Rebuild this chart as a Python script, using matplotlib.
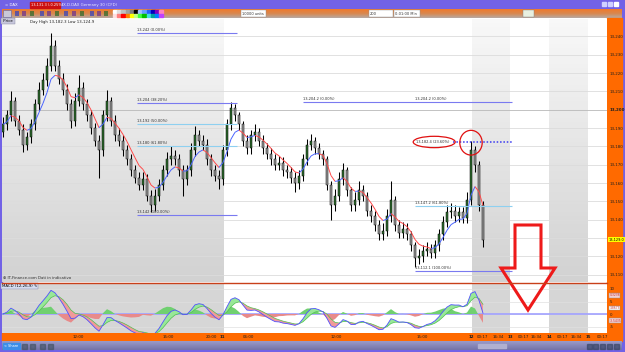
import matplotlib.pyplot as plt
import numpy as np
import pandas as pd
from matplotlib.collections import LineCollection
from matplotlib.colors import LinearSegmentedColormap
from matplotlib.patches import Rectangle, Ellipse, Polygon

# --- data (one candle every ~4 px) ---
first_open = 13188
closes = [13192, 13197, 13205, 13194, 13189, 13181, 13185, 13192, 13203, 13211,
          13216, 13224, 13235, 13224, 13217, 13211, 13203, 13194, 13205, 13212,
          13203, 13197, 13190, 13183, 13178, 13197, 13205, 13194, 13186, 13183,
          13178, 13173, 13167, 13163, 13159, 13162, 13153, 13148, 13153, 13159,
          13167, 13173, 13175, 13173, 13167, 13162, 13167, 13178, 13186, 13183,
          13181, 13173, 13167, 13164, 13162, 13178, 13192, 13201, 13197, 13192,
          13183, 13179, 13186, 13188, 13183, 13179, 13176, 13173, 13170, 13171,
          13167, 13166, 13163, 13160, 13164, 13173, 13181, 13183, 13179, 13176,
          13173, 13159, 13148, 13153, 13162, 13167, 13156, 13148, 13151, 13156,
          13153, 13145, 13142, 13137, 13132, 13134, 13142, 13151, 13137, 13133,
          13135, 13132, 13126, 13119, 13120, 13123, 13124, 13122, 13126, 13132,
          13139, 13144, 13145, 13142, 13144, 13141, 13151, 13178, 13170, 13148,
          13129]
highs = [13196, 13200, 13210, 13207, 13197, 13192, 13188, 13195, 13206, 13215,
         13220, 13228, 13242, 13238, 13227, 13220, 13214, 13206, 13209, 13219,
         13215, 13206, 13200, 13193, 13186, 13200, 13211, 13207, 13197, 13190,
         13186, 13181, 13176, 13170, 13166, 13166, 13165, 13156, 13157, 13162,
         13170, 13177, 13180, 13178, 13176, 13170, 13170, 13182, 13191, 13189,
         13186, 13184, 13176, 13170, 13167, 13181, 13195, 13204, 13203, 13199,
         13194, 13186, 13189, 13192, 13190, 13186, 13182, 13179, 13176, 13175,
         13174, 13170, 13169, 13166, 13167, 13176, 13184, 13187, 13185, 13182,
         13178, 13175, 13161, 13157, 13166, 13171, 13169, 13158, 13155, 13161,
         13159, 13155, 13148, 13145, 13140, 13138, 13146, 13161, 13153, 13140,
         13139, 13138, 13134, 13128, 13124, 13126, 13128, 13127, 13129, 13135,
         13142, 13148, 13149, 13148, 13147, 13147, 13155, 13183, 13180, 13172,
         13150]
lows = [13185, 13189, 13194, 13191, 13186, 13177, 13178, 13182, 13189, 13200,
        13208, 13213, 13221, 13221, 13214, 13208, 13200, 13190, 13191, 13202,
        13200, 13194, 13187, 13180, 13163, 13175, 13194, 13191, 13183, 13180,
        13175, 13170, 13164, 13160, 13156, 13156, 13150, 13144, 13145, 13150,
        13156, 13164, 13170, 13170, 13164, 13153, 13159, 13164, 13175, 13180,
        13178, 13170, 13164, 13161, 13157, 13159, 13175, 13189, 13194, 13189,
        13180, 13176, 13176, 13183, 13180, 13176, 13173, 13170, 13167, 13167,
        13164, 13163, 13160, 13155, 13157, 13161, 13170, 13178, 13176, 13173,
        13170, 13156, 13140, 13145, 13150, 13159, 13153, 13145, 13145, 13148,
        13150, 13142, 13139, 13134, 13129, 13129, 13131, 13139, 13134, 13130,
        13130, 13129, 13123, 13114, 13116, 13117, 13120, 13119, 13119, 13123,
        13129, 13136, 13141, 13139, 13139, 13138, 13138, 13148, 13166, 13145,
        13125]

price_ticks = [13110, 13120, 13130, 13140, 13150, 13160, 13170, 13180, 13190,
               13200, 13210, 13220, 13230, 13240]
macd_ticks = [-5, 0, 5, 10]

time_pos = [18.75, 41.25, 52, 54.75, 61.25, 83.2, 104.7, 117.2, 119.9, 123.75,
            126.75, 130, 133.4, 136.5, 139.9, 143.25, 146.25, 149.75]
time_labels = ['12:00', '15:00', '20:00', '11', '06:00', '12:00', '15:00', '12',
               '00:17', '16:34', '13', '00:17', '16:34', '14', '00:17', '16:34',
               '15', '00:17']
day_labels = ['11', '12', '13', '14', '15']

# sessions shaded grey (in candle index units)
grey_sessions = [(-0.25, 55.25), (117.25, 126.75), (136.5, 146.25)]

# fibonacci retracements
fib1_levels = [13242.0, 13203.8, 13192.0, 13180.2, 13142.3]
fib1_pcts = ['0.00%', '38.20%', '50.00%', '61.80%', '100.00%']
fib1_span = (33.5, 58.5)
fib2_levels = [13204.2, 13182.4, 13147.2, 13112.1]
fib2_pcts = ['0.00%', '23.60%', '61.80%', '100.00%']
fib2_span = (103.0, 127.25)

W, H = 625, 352
fig = plt.figure(figsize=(6.25, 3.52), dpi=100)


def rect(x0, y0, x1, y1):
    return [x0 / W, 1 - y1 / H, (x1 - x0) / W, (y1 - y0) / H]


# ---- window chrome (pixel coordinates) ----
bg = fig.add_axes([0, 0, 1, 1], zorder=0)
bg.set_xlim(0, W)
bg.set_ylim(H, 0)
bg.axis('off')

purple = '#7262e6'
orange = '#ff6a00'
bg.add_patch(Rectangle((0, 0), W, 9, color=purple))
bg.add_patch(Rectangle((0, 0), 2, H, color=purple))
bg.add_patch(Rectangle((622, 0), 3, H, color=purple))
bg.add_patch(Rectangle((0, 350), W, 2, color=purple))
tool = LinearSegmentedColormap.from_list('tool', ['#f07a2c', '#d88850', '#b8a8a0'])
bg.imshow(np.linspace(0, 1, 20).reshape(-1, 1), cmap=tool, aspect='auto',
          extent=(2, 622, 18, 9), zorder=1)
bg.add_patch(Rectangle((607, 18), 15, 323, color=orange, zorder=2))
bg.add_patch(Rectangle((2, 333), 605, 8, color=orange, zorder=2))
status = LinearSegmentedColormap.from_list('status', ['#9a9ac8', '#7474a8'])
bg.imshow(np.linspace(0, 1, 20).reshape(-1, 1), cmap=status, aspect='auto',
          extent=(2, 622, 350, 341), zorder=2)
bg.set_xlim(0, W)
bg.set_ylim(H, 0)

# title bar
bg.text(5, 4.6, '= DAX', color='white', fontsize=2.8, va='center')
bg.add_patch(Rectangle((30, 2), 30, 5.5, color='#cc1010', zorder=3))
bg.text(30.8, 4.7, '13,131.3 (-0.25%)', color='white', fontsize=2.5, va='center', zorder=4)
bg.text(62, 4.7, 'IX.D.DAX Germany 30 (CFD)', color='#e8e8ff', fontsize=2.8, va='center')
for i, c in enumerate(['#d0d0ff', '#d0d0ff', '#ffffff']):
    bg.add_patch(Rectangle((602 + i * 6, 2), 4, 4, color=c, zorder=3))

# toolbar
bg.add_patch(Rectangle((3, 10), 8, 7, facecolor='#c8c8d8', edgecolor='#6060a0', lw=0.4, zorder=3))
for k, xx in enumerate([15, 22, 30, 40, 47, 55, 64, 72, 80, 90, 97, 104]):
    bg.add_patch(Rectangle((xx, 11), 4, 5, facecolor=['#3040c0', '#6a3090', '#2a6a2a'][k % 3],
                           alpha=0.7, zorder=3))
row1 = ['#ffffff', '#e0e0e0', '#c0c0c0', '#a0a0a0', '#808080', '#000000', '#a0c0ff',
        '#60a0ff', '#2060ff', '#0000c0', '#8000c0', '#ff80c0']
row2 = ['#ffe0e0', '#ff8080', '#ff0000', '#ff8000', '#ffff00', '#c0ff80', '#40ff40',
        '#00c000', '#40e0e0', '#00a0a0', '#0080ff', '#c040ff']
for k in range(12):
    bg.add_patch(Rectangle((113 + k * 4.2, 9.8), 3.8, 3.4, color=row1[k], zorder=3))
    bg.add_patch(Rectangle((113 + k * 4.2, 13.6), 3.8, 3.4, color=row2[k], zorder=3))
for (x0, x1, txt) in [(241, 266, '10000 units'), (369, 393, '200'), (394, 420, '0:01:00 Min')]:
    bg.add_patch(Rectangle((x0, 10), x1 - x0, 7, facecolor='white', edgecolor='#909090',
                           lw=0.3, zorder=3))
    bg.text(x0 + 1, 13.6, txt, fontsize=2.6, va='center', color='#333333', zorder=4)
bg.add_patch(Rectangle((523, 10), 11, 7, facecolor='#e8f0e0', edgecolor='#808080', lw=0.3, zorder=3))

# status bar
bg.add_patch(Rectangle((3, 343), 17, 6, color='#3c8ee8', zorder=3))
bg.text(4.5, 346.2, '< Share', color='white', fontsize=2.5, va='center', zorder=4)
for xx in [22, 30, 40, 48]:
    bg.add_patch(Rectangle((xx, 343.5), 5, 5, color='#405060', alpha=0.6, zorder=3))
bg.add_patch(Rectangle((478, 343.5), 28, 4.5, color='#b0b0d0', zorder=3))
for xx in [587, 593, 600, 607, 614]:
    bg.add_patch(Rectangle((xx, 343.5), 5, 5, color='#304060', alpha=0.6, zorder=3))

# ---- price panel ----
n = len(closes)
x = np.arange(n)
opens = [first_open] + closes[:-1]

ax = fig.add_axes(rect(2, 19, 607, 282), zorder=1)
ax.set_facecolor('white')
shade = LinearSegmentedColormap.from_list('shade', ['#f8f8f8', '#d2d2d2'])
for x0, x1 in grey_sessions:
    ax.imshow(np.linspace(0, 1, 64).reshape(-1, 1), cmap=shade, aspect='auto',
              extent=(x0, x1, 13106, 13249.5), zorder=0)
ax.set_xlim(-0.25, 151)
ax.set_ylim(13106, 13249.5)

for p in price_ticks:
    ax.axhline(p, color='#b8b8b8' if p == 13200 else '#dcdcdc', lw=0.6, zorder=0.5)

ax.vlines(x, lows, highs, color='black', lw=0.75, zorder=2)
up = np.array(closes) >= np.array(opens)
body_lo = np.minimum(opens, closes)
body_h = np.maximum(np.abs(np.array(closes) - np.array(opens)), 0.6)
ax.bar(x, body_h, bottom=body_lo, width=0.7,
       color=np.where(up, '#2f6e2f', '#9a9a9a'), edgecolor='black', lw=0.35, zorder=3)

ma = pd.Series(closes).ewm(span=6, adjust=False).mean().values
segs = [[(i, ma[i]), (i + 1, ma[i + 1])] for i in range(n - 1)]
cols = ['#4a64ff' if ma[i + 1] >= ma[i] else '#ff4a4a' for i in range(n - 1)]
ax.add_collection(LineCollection(segs, colors=cols, lw=0.7, zorder=4))

# fibonacci lines
fib1_colors = ['#7a7af0', '#7a7af0', '#8ed0f0', '#8ed0f0', '#7a7af0']
for lev, pct, c in zip(fib1_levels, fib1_pcts, fib1_colors):
    ax.hlines(lev, *fib1_span, color=c, lw=0.8, zorder=5)
    ax.text(fib1_span[0], lev + 0.6, f'{lev:,.0f} ({pct})', fontsize=2.6, color='#303030',
            va='bottom', zorder=6)
ax.hlines(fib2_levels[0], 75.0, fib2_span[1], color='#7a7af0', lw=0.8, zorder=5)
ax.text(75.0, fib2_levels[0] + 0.6, f'{fib2_levels[0]:,.1f} ({fib2_pcts[0]})',
        fontsize=2.6, color='#303030', va='bottom', zorder=6)
ax.text(fib2_span[0], fib2_levels[0] + 0.6, f'{fib2_levels[0]:,.1f} ({fib2_pcts[0]})',
        fontsize=2.6, color='#303030', va='bottom', zorder=6)
ax.hlines(fib2_levels[1], 112.5, fib2_span[1], color='#3a3af0', lw=1.1,
          linestyles=(0, (1, 1.2)), zorder=5)
ax.text(fib2_span[0] + 0.3, fib2_levels[1], f'{fib2_levels[1]:,.1f} ({fib2_pcts[1]})',
        fontsize=2.6, color='#303030', va='center', zorder=6)
ax.hlines(fib2_levels[2], *fib2_span, color='#8ed0f0', lw=0.8, zorder=5)
ax.text(fib2_span[0], fib2_levels[2] + 0.6, f'{fib2_levels[2]:,.1f} ({fib2_pcts[2]})',
        fontsize=2.6, color='#303030', va='bottom', zorder=6)
ax.hlines(fib2_levels[3], *fib2_span, color='#7a7af0', lw=0.8, zorder=5)
ax.text(fib2_span[0], fib2_levels[3] + 0.6, f'{fib2_levels[3]:,.1f} ({fib2_pcts[3]})',
        fontsize=2.6, color='#303030', va='bottom', zorder=6)

# red markings
ax.add_patch(Ellipse((fib2_span[0] + 4.8, fib2_levels[1]), 10.5, 6.2, fill=False,
                     edgecolor='#e01010', lw=0.9, clip_on=False, zorder=7))
ax.add_patch(Ellipse((117, highs[117] - 1), 5.6, 13.5, fill=False,
                     edgecolor='#e01010', lw=0.9, clip_on=False, zorder=7))

ax.yaxis.tick_right()
ax.set_yticks(price_ticks, [f'{p:,}' for p in price_ticks])
ax.tick_params(axis='y', length=0, pad=2.2, labelsize=2.9, labelcolor='#202020')
for lab in ax.get_yticklabels():
    if lab.get_text() == '13,200':
        lab.set_fontweight('bold')
ax.set_xticks([])
for s in ax.spines.values():
    s.set_visible(False)
ax.text(1.003, closes[-1], f'{closes[-1]:,.1f}', transform=ax.get_yaxis_transform(),
        fontsize=2.5, va='center', ha='left',
        bbox=dict(boxstyle='square,pad=0.12', fc='#ffff00', ec='none'), zorder=8)

ax.text(0, 1, ' Price ', transform=ax.transAxes, fontsize=2.8, va='top',
        bbox=dict(boxstyle='square,pad=0.2', fc='#c8c8dc', ec='#8080a0', lw=0.3))
ax.text(0.047, 0.995, 'Day High 13,182.3 Low 13,124.9', transform=ax.transAxes,
        fontsize=2.8, va='top', color='#202020')
ax.text(0.002, 0.006, '\u2295 IT-Finance.com Dati in indicativo', transform=ax.transAxes,
        fontsize=2.8, va='bottom', color='#303030')

# ---- MACD panel ----
s = pd.Series(closes)
macd = (s.ewm(span=5, adjust=False).mean() - s.ewm(span=10, adjust=False).mean()).values
signal = pd.Series(macd).ewm(span=4, adjust=False).mean().values
hist = macd - signal

ax2 = fig.add_axes(rect(2, 283, 607, 333), zorder=1)
ax2.set_facecolor('white')
for x0, x1 in grey_sessions:
    ax2.axvspan(x0, x1, color='#d6d6d6', lw=0, zorder=0)
for t in macd_ticks:
    ax2.axhline(t, color='#e0e0e0', lw=0.5, zorder=0.5)
ax2.axhline(0, color='#a0a0ff', lw=1.2, zorder=1)
ax2.fill_between(x, hist, 0, where=hist >= 0, color='#70d070', lw=0, interpolate=True, zorder=2)
ax2.fill_between(x, hist, 0, where=hist < 0, color='#e88a8a', lw=0, interpolate=True, zorder=2)
ax2.fill_between(x, macd, signal, where=macd >= signal, color='#98e898', lw=0,
                 interpolate=True, zorder=3)
ax2.fill_between(x, macd, signal, where=macd < signal, color='#f09a9a', lw=0,
                 interpolate=True, zorder=3)
ax2.plot(x, signal, color='#50c050', lw=0.5, zorder=4)
ax2.plot(x, macd, color='#5050ff', lw=0.6, zorder=5)
ax2.set_xlim(-0.25, 151)
ax2.set_ylim(-7.6, 12.4)
ax2.yaxis.tick_right()
ax2.set_yticks(macd_ticks, [str(t) for t in macd_ticks])
ax2.tick_params(axis='y', length=0, pad=2.2, labelsize=2.9, labelcolor='#202020')
ax2.set_xticks(time_pos, time_labels)
ax2.tick_params(axis='x', length=0, pad=1.6, labelsize=2.9, labelcolor='#202020')
for lab in ax2.get_xticklabels():
    if lab.get_text() in day_labels:
        lab.set_fontweight('bold')
for s_ in ax2.spines.values():
    s_.set_visible(False)
for k, (v, fc) in enumerate([(macd[-1], '#f4d0d0'), (signal[-1], '#ffffff'), (hist[-1], '#f4d0d0')]):
    ax2.text(1.004, 0.75 - k * 0.25, f'{v:.4f}', transform=ax2.transAxes, fontsize=2.2,
             va='center', color='#c03030',
             bbox=dict(boxstyle='square,pad=0.1', fc=fc, ec='#909090', lw=0.3))
ax2.text(0, 0.98, 'MACD (12,26,9) \u270e', transform=ax2.transAxes, fontsize=2.8, va='top',
         bbox=dict(boxstyle='square,pad=0.2', fc='#d4dcf0', ec='#8080a0', lw=0.3))

# ---- overlay: separator and big arrow (pixel coordinates) ----
top = fig.add_axes([0, 0, 1, 1], zorder=5)
top.set_xlim(0, W)
top.set_ylim(H, 0)
top.axis('off')
top.plot([2, 607], [282.5, 282.5], color='#c8401a', lw=1)
top.add_patch(Polygon([(515, 225), (541, 225), (541, 268), (555, 268), (528, 310),
                       (501, 268), (515, 268)], closed=True, fill=False,
                      edgecolor='#ee1a1a', lw=2.2, joinstyle='miter'))

fig.savefig('out.png', dpi=100)
